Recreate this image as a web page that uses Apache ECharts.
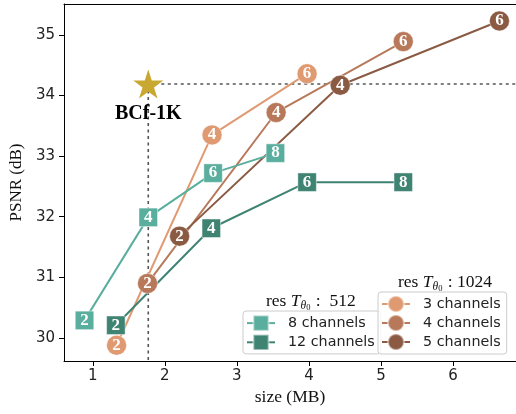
<!DOCTYPE html>
<html>
<head>
<meta charset="utf-8">
<script src="https://cdn.jsdelivr.net/npm/echarts@6/dist/echarts.min.js"></script>
<style>html,body{margin:0;padding:0;background:#fff}#c{width:516px;height:414px}</style>
</head>
<body>
<div id="c"></div>
<script>
// ---- data ----
const xTicks = [1, 2, 3, 4, 5, 6];
const yTicks = [30, 31, 32, 33, 34, 35];

const ch8Size = [0.885, 1.77, 2.67, 3.535];
const ch8Psnr = [30.29, 31.99, 32.72, 33.05];
const ch8Labels = ['2', '4', '6', '8'];

const ch12Size = [1.32, 2.645, 3.975, 5.31];
const ch12Psnr = [30.21, 31.81, 32.57, 32.57];
const ch12Labels = ['2', '4', '6', '8'];

const ch3Size = [1.33, 2.655, 3.975];
const ch3Psnr = [29.88, 33.35, 34.36];
const ch3Labels = ['2', '4', '6'];

const ch4Size = [1.76, 3.545, 5.31];
const ch4Psnr = [30.90, 33.72, 34.89];
const ch4Labels = ['2', '4', '6'];

const ch5Size = [2.205, 4.435, 6.645];
const ch5Psnr = [31.68, 34.17, 35.23];
const ch5Labels = ['2', '4', '6'];

const refSize = [1.77];
const refPsnr = [34.19];
const refLabel = ['BCf-1K'];

// ---- chart ----
const X_MIN = 0.6, X_MAX = 6.875, Y_MIN = 29.62, Y_MAX = 35.51;
const SERIF = 'Liberation Serif';
const SANS = 'DejaVu Sans';

function pts(xs, ys, ls) {
  return xs.map((x, i) => ({ value: [x, ys[i]], name: ls[i] }));
}
function markSeries(name, xs, ys, ls, color, symbol) {
  return {
    name, type: 'line', data: pts(xs, ys, ls),
    symbol, symbolSize: symbol === 'rect' ? 18.5 : 20,
    showAllSymbol: true,
    lineStyle: { color, width: 2 },
    itemStyle: { color, borderColor: 'rgba(255,255,255,0.45)', borderWidth: 1, opacity: 1 },
    label: {
      show: true, position: 'inside', formatter: '{b}',
      color: '#fff', fontFamily: SERIF, fontWeight: 'bold', fontSize: 17,
      textBorderWidth: 0
    },
    emphasis: { disabled: true },
    z: 3
  };
}

const c8 = '#5aae9e', c12 = '#3f8373', c3 = '#e09a72', c4 = '#b8795a', c5 = '#8b5a43';
const starPath = 'path://M50,0 L61.2,34.5 L97.6,34.5 L68.2,55.9 L79.4,90.5 L50,69.1 L20.6,90.5 L31.8,55.9 L2.4,34.5 L38.8,34.5 Z';

function titleRich() {
  return {
    a: { fontFamily: SERIF, fontSize: 17.5, fill: '#111' },
    t: { fontFamily: SERIF, fontSize: 17.5, fontStyle: 'italic', fill: '#111' },
    s: { fontFamily: SERIF, fontSize: 11.5, fontStyle: 'italic', fill: '#111', padding: [9, 0, 0, 0] },
    z: { fontFamily: SERIF, fontSize: 8.5, fill: '#111', padding: [14, 1, 0, 0] }
  };
}

const option = {
  animation: false,
  grid: { left: 62, right: 0, top: 4, bottom: 53, show: false },
  xAxis: [{
    type: 'value', min: X_MIN, max: X_MAX, position: 'bottom',
    name: 'size (MB)', nameLocation: 'middle', nameGap: 21,
    nameTextStyle: { fontFamily: SERIF, fontSize: 17.5, color: '#111' },
    axisLine: { show: true, lineStyle: { color: '#000', width: 1 } },
    axisTick: { show: true, length: 5, inside: false, customValues: xTicks, lineStyle: { color: '#000' } },
    axisLabel: { customValues: xTicks, margin: 8, fontFamily: SANS, fontSize: 15, color: '#222' },
    splitLine: { show: false }
  }, {
    type: 'value', min: X_MIN, max: X_MAX, position: 'top',
    axisLine: { show: true, onZero: false, lineStyle: { color: '#000', width: 1 } },
    axisTick: { show: false }, axisLabel: { show: false }, splitLine: { show: false }
  }],
  yAxis: {
    type: 'value', min: Y_MIN, max: Y_MAX,
    name: 'PSNR (dB)', nameLocation: 'middle', nameGap: 37,
    nameTextStyle: { fontFamily: SERIF, fontSize: 17, color: '#111' },
    axisLine: { show: true, lineStyle: { color: '#000', width: 1 } },
    axisTick: { show: true, length: 5, customValues: yTicks, lineStyle: { color: '#000' } },
    axisLabel: { customValues: yTicks, margin: 9, fontFamily: SANS, fontSize: 15, color: '#222' },
    splitLine: { show: false }
  },
  legend: [{
    data: ['8 channels', '12 channels'],
    orient: 'vertical', left: 243, top: 311,
    itemWidth: 28, itemHeight: 19, itemGap: 2,
    padding: [3.5, 6, 3, 3],
    borderColor: '#cccccc', borderWidth: 1, borderRadius: 3,
    backgroundColor: 'rgba(255,255,255,0.85)',
    textStyle: { fontFamily: SANS, fontSize: 14.3, color: '#222', padding: [0, 0, 0, 8] },
    selectedMode: false
  }, {
    data: ['3 channels', '4 channels', '5 channels'],
    orient: 'vertical', left: 378, top: 292,
    itemWidth: 28, itemHeight: 20, itemGap: 1,
    padding: [3, 6, 3, 3],
    borderColor: '#cccccc', borderWidth: 1, borderRadius: 3,
    backgroundColor: 'rgba(255,255,255,0.85)',
    textStyle: { fontFamily: SANS, fontSize: 14.3, color: '#222', padding: [0, 0, 0, 8] },
    selectedMode: false
  }],
  graphic: [{
    type: 'text', left: 266, top: 292, z: 10,
    style: { text: '{a|res }{t|T}{s|θ}{z|0}{a| :  512}', rich: titleRich() }
  }, {
    type: 'text', left: 398, top: 273, z: 10,
    style: { text: '{a|res }{t|T}{s|θ}{z|0}{a| : 1024}', rich: titleRich() }
  }],
  series: [
    {
      name: 'guide-h', type: 'line', silent: true, symbol: 'none', z: 1,
      data: [[refSize[0], refPsnr[0]], [X_MAX, refPsnr[0]]],
      lineStyle: { color: '#555', width: 1.6, type: [3, 3.5] }
    },
    {
      name: 'guide-v', type: 'line', silent: true, symbol: 'none', z: 1,
      data: [[refSize[0], refPsnr[0]], [refSize[0], Y_MIN]],
      lineStyle: { color: '#555', width: 1.6, type: [3, 3.5] }
    },
    markSeries('3 channels', ch3Size, ch3Psnr, ch3Labels, c3, 'circle'),
    markSeries('4 channels', ch4Size, ch4Psnr, ch4Labels, c4, 'circle'),
    markSeries('5 channels', ch5Size, ch5Psnr, ch5Labels, c5, 'circle'),
    markSeries('8 channels', ch8Size, ch8Psnr, ch8Labels, c8, 'rect'),
    markSeries('12 channels', ch12Size, ch12Psnr, ch12Labels, c12, 'rect'),
    {
      name: 'ref', type: 'scatter', z: 4,
      data: refSize.map((x, i) => ({ value: [x, refPsnr[i]], name: refLabel[i] })),
      symbol: starPath, symbolSize: [30, 29],
      itemStyle: { color: '#c9a832', opacity: 1 },
      label: {
        show: true, position: 'bottom', distance: 5, formatter: '{b}',
        fontFamily: SERIF, fontWeight: 'bold', fontSize: 20, color: '#000',
        textBorderWidth: 0, opacity: 1
      },
      emphasis: { disabled: true }
    }
  ]
};

const chart = echarts.init(document.getElementById('c'), null, { renderer: 'canvas' });
chart.setOption(option);
</script>
</body>
</html>
